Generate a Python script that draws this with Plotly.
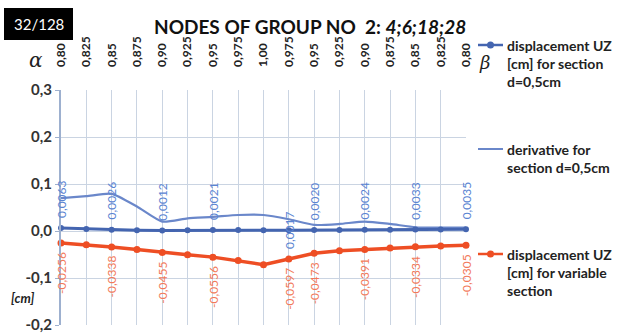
import plotly.graph_objects as go

# Column labels along the top: alpha rises to 1,00, then beta falls back
col_labels = ["0,80", "0,825", "0,85", "0,875", "0,90", "0,925", "0,95", "0,975", "1,00",
              "0,975", "0,95", "0,925", "0,90", "0,875", "0,85", "0,825", "0,80"]

# displacement UZ [cm] for section d=0,5cm
uz_section = [0.0063, 0.0045, 0.0026, 0.0018, 0.0012, 0.0016, 0.0021, 0.0019, 0.0018,
              0.0017, 0.0020, 0.0022, 0.0024, 0.0029, 0.0033, 0.0034, 0.0035]
# derivative for section d=0,5cm
derivative = [0.070, 0.074, 0.079, 0.052, 0.020, 0.027, 0.030, 0.034, 0.034,
              0.025, 0.013, 0.015, 0.020, 0.015, 0.008, 0.007, 0.007]
# displacement UZ [cm] for variable section
uz_variable = [-0.0256, -0.0290, -0.0338, -0.0395, -0.0455, -0.0505, -0.0556, -0.0630, -0.0717,
               -0.0597, -0.0473, -0.0420, -0.0391, -0.0360, -0.0334, -0.0318, -0.0305]

series_names = ["displacement UZ<br>[cm] for section<br>d=0,5cm",
                "derivative for<br>section d=0,5cm",
                "displacement UZ<br>[cm] for variable<br>section"]

# points that carry a value label
labelled = [0, 2, 4, 6, 9, 10, 12, 14, 16]

y_ticks = [0.3, 0.2, 0.1, 0.0, -0.1, -0.2]
y_tick_text = ["0,3", "0,2", "0,1", "0,0", "-0,1", "-0,2"]

W, H = 623, 334
PL, PR, PT, PB = 61, 466, 90, 325   # plot area in pixels

def px_x(p):
    return (p - PL) / (PR - PL)

def px_y(p):
    return (PB - p) / (PB - PT)

FONT = "Lato"
BLUE = "#4465B0"
BLUE_LIGHT = "#6A87CA"
ORANGE = "#EE4E24"
GRID = "#CAD4E2"

x = list(range(len(col_labels)))

def fmt(v):
    return f"{v:.4f}".replace(".", ",")

def note(px, py, text, size, color="#222", family=FONT, xa="center", ya="middle", align="center"):
    return dict(x=px_x(px), y=px_y(py), xref="paper", yref="paper", text=text,
                showarrow=False, xanchor=xa, yanchor=ya, align=align,
                font=dict(family=family, size=size, color=color))

fig = go.Figure()

fig.add_trace(go.Scatter(
    x=x, y=derivative, mode="lines", name=series_names[1],
    line=dict(color=BLUE_LIGHT, width=2.2, shape="spline", smoothing=0.6)))
fig.add_trace(go.Scatter(
    x=x, y=uz_variable, mode="lines+markers", name=series_names[2],
    line=dict(color=ORANGE, width=3.5), marker=dict(color=ORANGE, size=7),
    cliponaxis=False))
fig.add_trace(go.Scatter(
    x=x, y=uz_section, mode="lines+markers", name=series_names[0],
    line=dict(color=BLUE, width=3), marker=dict(color=BLUE, size=6),
    cliponaxis=False))

annotations = []
for i in labelled:
    shift_up = 0 if i == 9 else 29
    annotations.append(dict(x=i, y=uz_section[i], xref="x", yref="y", text=fmt(uz_section[i]),
                            showarrow=False, textangle=-90, yshift=shift_up,
                            xanchor="center", yanchor="middle",
                            font=dict(family=FONT, size=12, color="#5A84D2")))
    annotations.append(dict(x=i, y=uz_variable[i], xref="x", yref="y", text=fmt(uz_variable[i]),
                            showarrow=False, textangle=-90, yshift=-30,
                            xanchor="center", yanchor="middle",
                            font=dict(family=FONT, size=12, color="#F2795A")))

# title, page badge, alpha/beta markers, unit
annotations.append(note(310, 26, "<b>NODES OF GROUP NO\u00a0 2: <i>4;6;18;28</i></b>", 19, "#111"))
annotations.append(note(39, 24, "32/128", 15, "white"))
annotations.append(note(36, 60, "<i>α</i>", 20, family="DejaVu Serif"))
annotations.append(note(484, 63, "<i>β</i>", 18, family="DejaVu Serif"))
annotations.append(note(22, 298, "<b><i>[cm]</i></b>", 13))

shapes = [dict(type="rect", xref="paper", yref="paper",
               x0=px_x(4), x1=px_x(73), y0=px_y(40), y1=px_y(8),
               fillcolor="black", line=dict(width=0), layer="above")]

# legend block on the right
legend_rows = [(45, BLUE, True, series_names[0]),
               (149, BLUE_LIGHT, False, series_names[1]),
               (254, ORANGE, True, series_names[2])]
for ly, col, has_marker, label in legend_rows:
    shapes.append(dict(type="line", xref="paper", yref="paper",
                       x0=px_x(478), x1=px_x(503), y0=px_y(ly), y1=px_y(ly),
                       line=dict(color=col, width=2.5 if has_marker else 2)))
    if has_marker:
        shapes.append(dict(type="circle", xref="paper", yref="paper",
                           x0=px_x(487), x1=px_x(494), y0=px_y(ly + 3.5), y1=px_y(ly - 3.5),
                           fillcolor=col, line=dict(width=0)))
    annotations.append(note(505, ly - 10, f"<b>{label}</b>", 14, "#222",
                            xa="left", ya="top", align="left"))

fig.update_layout(
    width=W, height=H,
    margin=dict(l=PL, r=W - PR, t=PT, b=H - PB),
    paper_bgcolor="white", plot_bgcolor="white",
    font=dict(family=FONT, color="#222"),
    showlegend=False,
    annotations=annotations, shapes=shapes,
    xaxis=dict(range=[0, len(col_labels) - 1], side="top", automargin=False,
               tickvals=x, ticktext=[f"<b>{t}</b>" for t in col_labels],
               tickangle=-90, tickfont=dict(family=FONT, size=12, color="#222"),
               showgrid=True, gridcolor=GRID, gridwidth=1,
               ticks="", ticklabelstandoff=22, zeroline=False, showline=False),
    yaxis=dict(range=[-0.2, 0.3], tickvals=y_ticks, automargin=False,
               ticktext=[f"<b>{t}</b>" for t in y_tick_text],
               tickfont=dict(family=FONT, size=15, color="#333"),
               showgrid=True, gridcolor=GRID, gridwidth=1,
               ticks="outside", ticklen=4, tickcolor="#9DB0CF",
               showline=True, linecolor="#9DB0CF", linewidth=2,
               zeroline=False),
)

fig.write_html("out.html")
